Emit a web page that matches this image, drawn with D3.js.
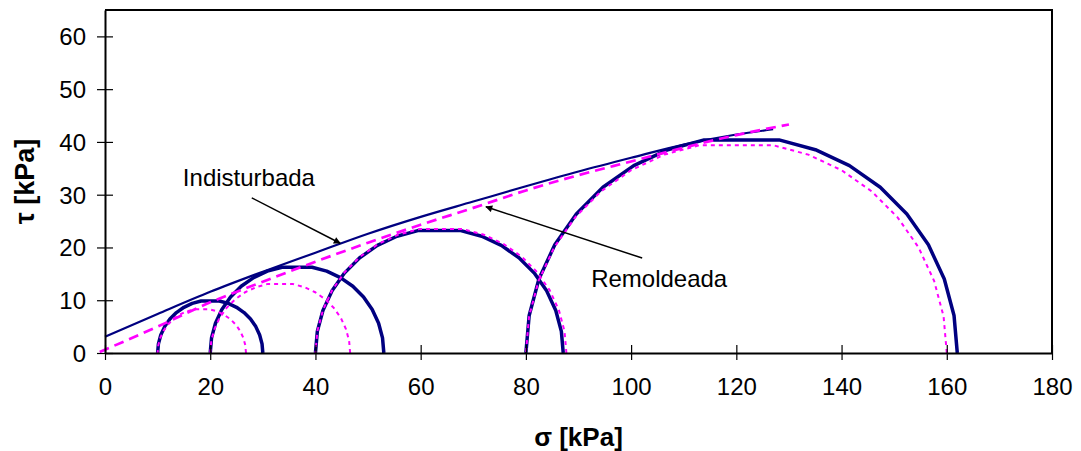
<!DOCTYPE html>
<html>
<head>
<meta charset="utf-8">
<script src="https://cdn.jsdelivr.net/npm/d3@7"></script>
<style>
  html, body { margin: 0; padding: 0; background: #fff; }
  svg { display: block; }
  text { font-family: "Liberation Sans", Arial, sans-serif; fill: #000; }
</style>
</head>
<body>
<svg id="chart" width="1081" height="451"></svg>
<script>
// ---- Data ----
const xTicks = [0, 20, 40, 60, 80, 100, 120, 140, 160, 180];
const yTicks = [0, 10, 20, 30, 40, 50, 60];

// Mohr circles (sigma3, sigma1) in kPa
const indSigma3 = [10, 20, 40, 80];
const indSigma1 = [30, 53, 87.1, 162];
const remSigma3 = [10, 20, 40, 80];
const remSigma1 = [26.8, 46.6, 87.7, 160];

// Failure envelopes
const indEnvSigma = [0, 10, 20, 30, 40, 50, 60, 70, 80, 90, 100, 110, 120, 127];
const indEnvTau   = [3.1, 7.4, 11.6, 15.4, 19.0, 22.6, 25.8, 28.7, 31.6, 34.4, 37.0, 39.5, 41.4, 42.4];
const remEnvSigma = [-1, 10, 20, 30, 40, 50, 60, 70, 80, 90, 100, 110, 120, 130];
const remEnvTau   = [0.2, 5.0, 9.6, 13.5, 17.3, 20.9, 24.3, 27.5, 30.8, 33.7, 36.3, 38.9, 41.3, 43.3];

// Annotations (label, text anchor point, arrow start, arrow end) in data units
const annLabels = ["Indisturbada", "Remoldeada"];
const annText   = [[14.8, 31.6], [92.4, 12.6]];
const annFrom   = [[27.9, 29.4], [102.1, 18.0]];
const annTo     = [[44.7, 20.8], [72.4, 27.7]];

// ---- Layout ----
const svg = d3.select("#chart");
const x = d3.scaleLinear().domain([0, 180]).range([105, 1052]);
const y = d3.scaleLinear().domain([0, 65]).range([353, 10]);

const NAVY = "#000080", MAG = "#FF00FF";

// frame (top and right)
svg.append("path")
  .attr("d", `M${x(0)},${y(65)}H${x(180)}V${y(0)}`)
  .attr("fill", "none").attr("stroke", "#000").attr("stroke-width", 2);

// defs
svg.append("defs").append("marker")
  .attr("id", "arr").attr("viewBox", "0 0 10 10")
  .attr("refX", 9).attr("refY", 5)
  .attr("markerWidth", 9).attr("markerHeight", 7)
  .attr("markerUnits", "userSpaceOnUse")
  .attr("orient", "auto")
  .append("path").attr("d", "M0,0L10,5L0,10z").attr("fill", "#000");

// circles
const angles = d3.range(0, 181, 10).filter(a => a !== 90);
function circlePts(s3, s1) {
  const c = (s3 + s1) / 2, r = (s1 - s3) / 2;
  return angles.map(a => [c + r * Math.cos(a * Math.PI / 180), r * Math.sin(a * Math.PI / 180)]);
}
const lineXY = d3.line().x(d => x(d[0])).y(d => y(d[1]));
const envLine = d3.line().x(d => x(d[0])).y(d => y(d[1])).curve(d3.curveMonotoneX);

const g = svg.append("g");

// navy circles
indSigma3.forEach((s3, i) => {
  g.append("path").attr("d", lineXY(circlePts(s3, indSigma1[i])))
    .attr("fill", "none").attr("stroke", NAVY).attr("stroke-width", 3.5)
    .attr("stroke-linejoin", "round");
});
// navy envelope
g.append("path").attr("d", envLine(indEnvSigma.map((s, i) => [s, indEnvTau[i]])))
  .attr("fill", "none").attr("stroke", NAVY).attr("stroke-width", 2.2);

// magenta dotted circles
remSigma3.forEach((s3, i) => {
  g.append("path").attr("d", lineXY(circlePts(s3, remSigma1[i])))
    .attr("fill", "none").attr("stroke", MAG).attr("stroke-width", 2)
    .attr("stroke-dasharray", "4,4");
});
// magenta dashed envelope
g.append("path").attr("d", envLine(remEnvSigma.map((s, i) => [s, remEnvTau[i]])))
  .attr("fill", "none").attr("stroke", MAG).attr("stroke-width", 2.7)
  .attr("stroke-dasharray", "10,6");

// axes
const xAxis = svg.append("g").attr("transform", `translate(0,${y(0)})`)
  .call(d3.axisBottom(x).tickValues(xTicks).tickSizeInner(7).tickSizeOuter(0).tickFormat(d3.format("d")));
xAxis.select(".domain").attr("stroke", "#000").attr("stroke-width", 2);
xAxis.selectAll(".tick line").attr("y1", -8).attr("y2", 7).attr("stroke", "#000").attr("stroke-width", 1.2);
xAxis.selectAll(".tick text").attr("y", 34).attr("dy", "0.35em")
  .style("font-size", "24px").attr("fill", "#000");

const yAxis = svg.append("g").attr("transform", `translate(${x(0)},0)`)
  .call(d3.axisLeft(y).tickValues(yTicks).tickSizeInner(8).tickSizeOuter(0).tickFormat(d3.format("d")));
yAxis.select(".domain").attr("stroke", "#000").attr("stroke-width", 2);
yAxis.selectAll(".tick line").attr("x1", -8).attr("x2", 8).attr("stroke", "#000").attr("stroke-width", 1.2);
yAxis.selectAll(".tick text").attr("x", -19).attr("dy", "0.35em")
  .style("font-size", "24px").attr("fill", "#000");

// axis titles
svg.append("text").attr("x", (x(0) + x(180)) / 2).attr("y", 446)
  .attr("text-anchor", "middle")
  .style("font-size", "26px").style("font-weight", "bold")
  .text("σ [kPa]");
svg.append("text")
  .attr("transform", `translate(25,${(y(0) + y(65)) / 2}) rotate(-90)`)
  .attr("text-anchor", "middle").attr("dominant-baseline", "central")
  .style("font-size", "27px").style("font-weight", "bold")
  .text("τ [kPa]");

// annotations
annLabels.forEach((t, i) => {
  svg.append("text").attr("x", x(annText[i][0])).attr("y", y(annText[i][1]))
    .style("font-size", "24px").text(t);
  svg.append("line")
    .attr("x1", x(annFrom[i][0])).attr("y1", y(annFrom[i][1]))
    .attr("x2", x(annTo[i][0])).attr("y2", y(annTo[i][1]))
    .attr("stroke", "#000").attr("stroke-width", 1.5)
    .attr("marker-end", "url(#arr)");
});
</script>
</body>
</html>
